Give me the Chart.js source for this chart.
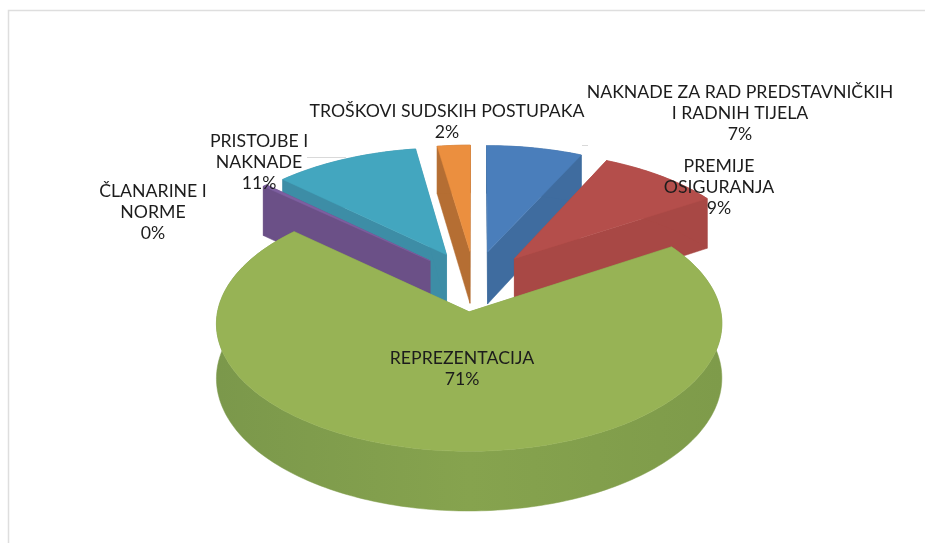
<!DOCTYPE html>
<html><head><meta charset="utf-8">
<style>html,body{margin:0;padding:0;background:#fff}canvas{display:block}</style>
<script src="https://cdn.jsdelivr.net/npm/chart.js@4"></script>
</head><body><canvas id="c" width="925" height="543"></canvas>
<script>
const categories = [
  ['NAKNADE ZA RAD PREDSTAVNIČKIH','I RADNIH TIJELA'],
  ['PREMIJE','OSIGURANJA'],
  ['REPREZENTACIJA'],
  ['ČLANARINE I','NORME'],
  ['PRISTOJBE I','NAKNADE'],
  ['TROŠKOVI SUDSKIH POSTUPAKA']
];
const values = [7, 9, 71, 0.3, 10.6, 2.4];
const topColors  = ['#4A7EBB','#B44E4B','#97B355','#7D5FA0','#43A6BF','#EB8F3F'];
const sideColors = ['#3F6C9F','#A84845','#82A04C','#6B5087','#3D8DA6','#B56E33'];
// label block centres (x, y of first line), same order as categories
const labelX = [740, 719, 462, 153, 259, 447];
const labelY = [92, 166, 358, 191, 141, 111];
const lineStep = 21;
const drawOrder = [5, 0, 4, 1, 3, 2];
// oblique view of the disc
const view = {xc: 474.5, yc: 281, B: 246, A: 121, k: 0.09, depth: 53, explode: 0.25};

function proj(U, V, h) {
  const s = 1 / (1 - view.k * V);
  return [view.xc + view.B * U * s, view.yc + (view.A * V + h * view.depth) * s];
}
const pie3d = {
  id: 'pie3d',
  beforeDraw(chart) {
    const c = chart.ctx;
    c.save();
    c.fillStyle = '#fff'; c.fillRect(0, 0, chart.width, chart.height);
    c.strokeStyle = '#dedede'; c.lineWidth = 1.5;
    c.beginPath(); c.moveTo(8.5, chart.height); c.lineTo(8.5, 10.5); c.lineTo(chart.width, 10.5); c.stroke();
    c.restore();
  },
  beforeDatasetsDraw(chart) {
    const c = chart.ctx, arcs = chart.getDatasetMeta(0).data;
    for (const i of drawOrder) {
      const a = arcs[i], s = a.startAngle, e = a.endAngle, m = (s + e) / 2;
      const ox = view.explode * Math.cos(m), oy = view.explode * Math.sin(m);
      const pts = [];
      const n = Math.max(2, Math.ceil((e - s) / 0.02));
      for (let j = 0; j <= n; j++) {
        const t = s + (e - s) * j / n;
        pts.push([ox + Math.cos(t), oy + Math.sin(t)]);
      }
      const poly = (list) => {
        c.beginPath();
        list.forEach((p, j) => j ? c.lineTo(p[0], p[1]) : c.moveTo(p[0], p[1]));
        c.closePath();
      };
      let side = sideColors[i];
      if (i === 2) {
        const g = c.createLinearGradient(217, 0, 723, 0);
        g.addColorStop(0, '#7B984B'); g.addColorStop(0.5, '#86A34E'); g.addColorStop(1, '#7E9B4A');
        side = g;
      }
      c.fillStyle = side; c.strokeStyle = side; c.lineWidth = 0.5;
      // radial faces
      for (const end of [pts[0], pts[n]]) {
        poly([proj(ox, oy, 0), proj(end[0], end[1], 0), proj(end[0], end[1], 1), proj(ox, oy, 1)]);
        c.fill(); c.stroke();
      }
      // outer wall
      poly(pts.map(p => proj(p[0], p[1], 0)).concat(pts.slice().reverse().map(p => proj(p[0], p[1], 1))));
      c.fill(); c.stroke();
      // top face
      c.fillStyle = topColors[i]; c.strokeStyle = topColors[i];
      poly([proj(ox, oy, 0)].concat(pts.map(p => proj(p[0], p[1], 0))));
      c.fill(); c.stroke();
    }
    return false;
  },
  afterDraw(chart) {
    const c = chart.ctx, sum = values.reduce((x, y) => x + y, 0);
    c.save();
    // leader lines
    c.strokeStyle = '#d9d9d9'; c.lineWidth = 1;
    c.beginPath(); c.moveTo(307, 157.5); c.lineTo(346, 157.5); c.moveTo(582, 145.5); c.lineTo(588, 145.5); c.stroke();
    c.fillStyle = '#1c1c1c'; c.textAlign = 'center'; c.textBaseline = 'middle';
    c.font = '17.7px Lato, sans-serif';
    categories.forEach((lines, i) => {
      const all = lines.concat(Math.round(values[i] / sum * 100) + '%');
      all.forEach((t, j) => c.fillText(t, labelX[i], labelY[i] + j * lineStep));
    });
    c.restore();
  }
};
new Chart(document.getElementById('c'), {
  type: 'pie',
  data: {labels: categories, datasets: [{data: values, backgroundColor: topColors, borderWidth: 0}]},
  options: {
    responsive: false, animation: false,
    plugins: {legend: {display: false}, tooltip: {enabled: false}}
  },
  plugins: [pie3d]
});
</script></body></html>
